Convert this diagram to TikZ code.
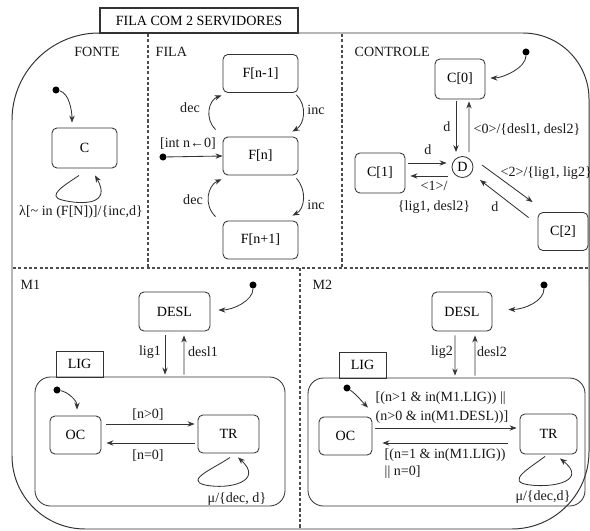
\documentclass[tikz,border=0pt]{standalone}
\usepackage{fontspec}
\setmainfont{Liberation Serif}
\usetikzlibrary{arrows.meta}
\newlength\pu
\setlength\pu{0.025cm}
\newcommand\lblfont{\fontsize{10}{12}\selectfont}
\tikzset{
  st/.style={draw=black!80,line width=0.6pt,rounded corners=3.5pt,font=\lblfont,inner sep=0pt},
  tab/.style={draw=black!80,line width=0.6pt,font=\lblfont,inner sep=0pt,minimum width=47\pu,minimum height=26\pu},
  lbl/.style={font=\lblfont,inner sep=1pt,text=black!90},
  ini/.style={circle,fill=black,inner sep=0pt,minimum size=5pt},
  tr/.style={->,black!80,line width=0.6pt},
  sep/.style={black!70,line width=0.9pt,dash pattern=on 2.2pt off 1.6pt},
  frame/.style={black!80,line width=0.7pt},
}
\begin{document}
\begin{tikzpicture}[x=0.025cm,y=-0.025cm,>={Stealth[length=5pt,width=3.8pt]}]
\useasboundingbox (0,0) rectangle (590,531);
% outer frame, one corner at a time
\draw[frame,rounded corners=62pt] (12,280) -- (12,33) -- (300,33);
\draw[frame,rounded corners=47pt] (300,33) -- (589,33) -- (589,280);
\draw[frame,rounded corners=55pt] (589,280) -- (589,529) -- (300,529);
\draw[frame,rounded corners=52pt] (300,529) -- (12,529) -- (12,280);
\node[draw=black!80,line width=0.8pt,fill=white,minimum width=198\pu,minimum height=25\pu,font=\lblfont,inner sep=0pt]
  (title) at (199,20.5) {FILA COM 2 SERVIDORES};
% region borders
\draw[sep] (148,34) -- (148,268);
\draw[sep] (342,34) -- (342,268);
\draw[sep] (13,268) -- (588,268);
\draw[sep] (300,268) -- (300,528);
\node[lbl] (fonte) at (97,52) {FONTE};
\node[lbl,anchor=west] (fila) at (154,52) {FILA};
\node[lbl,anchor=west] (controle) at (353,52) {CONTROLE};
\node[lbl,anchor=west] (m1) at (19,285) {M1};
\node[lbl,anchor=west] (m2) at (311,285) {M2};

% FONTE
\node[ini] (i0) at (56,90) {};
\node[st,minimum width=65\pu,minimum height=40\pu] (C) at (84.5,148) {C};
\draw[tr] (i0) .. controls +(13,3) and +(0,-12) .. ([shift={(-12.5,-5)}]C.north);
\draw[tr] ([shift={(-5.5,7)}]C.south) .. controls (65,185) and (46,196) .. (62,200)
  .. controls (82,205) and (112,205) .. ([shift={(10.5,7)}]C.south);
\node[lbl] (lam) at (81,212) {λ[\textasciitilde{} in (F[N])]/\{inc,d\}};

% FILA
\node[st,minimum width=75\pu,minimum height=38\pu] (Fm) at (260.5,73.5) {F[n-1]};
\node[st,minimum width=75\pu,minimum height=38\pu] (Fn) at (260.5,156) {F[n]};
\node[st,minimum width=75\pu,minimum height=38\pu] (Fp) at (260.5,240) {F[n+1]};
\node[ini] (i1) at (163,157) {};
\draw[tr] (i1) -- (Fn.west);
\node[lbl] (init) at (188,144) {[int n←0]};
\draw[tr] ([shift={(-7,-7)}]Fn.north west) .. controls (204,118) and (209,100) .. ([shift={(-1,2.5)}]Fm.south west);
\draw[tr] ([shift={(-7,-4)}]Fp.north west) .. controls (203,205) and (208,185) .. ([shift={(-1,4)}]Fn.south west);
\draw[tr] ([shift={(-2,2)}]Fm.south east) .. controls (307,105) and (305,124) .. ([shift={(-6,-5)}]Fn.north east);
\draw[tr] ([shift={(-2,3)}]Fn.south east) .. controls (307,190) and (305,209) .. ([shift={(-6,-5)}]Fp.north east);
\node[lbl] (dec1) at (190,108) {dec};
\node[lbl] (dec2) at (193,200) {dec};
\node[lbl] (inc1) at (316,110) {inc};
\node[lbl] (inc2) at (316,205) {inc};

% CONTROLE
\node[st,minimum width=50\pu,minimum height=40\pu] (C0) at (460,79) {C[0]};
\node[st,minimum width=50\pu,minimum height=40\pu] (C1) at (380,173) {C[1]};
\node[st,minimum width=50\pu,minimum height=38\pu] (C2) at (563,231.5) {C[2]};
\node[draw=black!80,line width=0.6pt,circle,minimum size=21\pu,inner sep=0pt,font=\lblfont] (D) at (462.5,167) {D};
\node[ini] (i2) at (526,52) {};
\draw[tr] (i2) .. controls +(0,16) and +(12,0) .. ([shift={(5,-1)}]C0.east);
\draw[tr] ([shift={(-4,2)}]C0.south) -- ([shift={(-6.5,-4)}]D.north);
\draw[tr] ([shift={(6.5,-4)}]D.north) -- ([shift={(9,2)}]C0.south);
\draw[tr] ([shift={(3,-10)}]C1.east) -- ([shift={(-5,-4)}]D.west);
\draw[tr] ([shift={(-4,9)}]D.west) -- ([shift={(5,3)}]C1.east);
\draw[tr] ([shift={(19.5,-2)}]D.center) -- ([shift={(-5,-10)}]C2.north west);
\draw[tr] ([shift={(-9,5.5)}]C2.north west) -- ([shift={(17.5,13)}]D.center);
\node[lbl] (d1) at (447,127) {d};
\node[lbl,anchor=west] (o0) at (472,130) {<0>/\{desl1, desl2\}};
\node[lbl] (d2) at (428,150) {d};
\node[lbl,align=center] (o1) at (434,197.5) {<1>/\\[2pt]\{lig1, desl2\}};
\node[lbl,anchor=west] (o2) at (499,173) {<2>/\{lig1, lig2\}};
\node[lbl] (d3) at (495,207) {d};

% M1
\node[st,minimum width=71\pu,minimum height=39\pu] (DA) at (174.5,311.5) {DESL};
\node[st,rounded corners=11pt,minimum width=250\pu,minimum height=129\pu] (LA) at (160,441.5) {};
\node[tab] (TA) at (79.5,364) {LIG};
\node[st,minimum width=51\pu,minimum height=38\pu] (OA) at (75.5,435) {OC};
\node[st,minimum width=61\pu,minimum height=38\pu] (RA) at (228.5,434) {TR};
\node[ini] (i3) at (253,285) {};
\node[ini] (i4) at (57,390) {};
\draw[tr] (i3) .. controls +(0,16) and +(14,0) .. ([shift={(8,-1.5)}]DA.east);
\draw[tr] ([shift={(-9.5,4)}]DA.south) -- ([shift={(5,-2)}]LA.north);
\draw[tr] ([shift={(24,-2)}]LA.north) -- ([shift={(9.5,4)}]DA.south);
\draw[tr] (i4) .. controls +(11,2) and +(0,-9) .. ([shift={(1.5,-6)}]OA.north);
\draw[tr] ([shift={(5,-11)}]OA.east) -- ([shift={(-3,-10)}]RA.west);
\draw[tr] ([shift={(-3,9)}]RA.west) -- ([shift={(5,8)}]OA.east);
\draw[tr] ([shift={(1.5,4)}]RA.south) .. controls (215,468) and (184,480) .. (205,485)
  .. controls (230,490) and (264,481) .. ([shift={(9.5,4)}]RA.south);
\node[lbl] (l1) at (150,352) {lig1};
\node[lbl] (s1) at (203,352) {desl1};
\node[lbl] (g1) at (148,415) {[n>0]};
\node[lbl] (h1) at (148,456) {[n=0]};
\node[lbl] (mu1) at (237,499) {μ/\{dec, d\}};

% M2
\node[st,minimum width=60\pu,minimum height=39\pu] (DB) at (462,311.5) {DESL};
\node[st,rounded corners=11pt,minimum width=277\pu,minimum height=128\pu] (LB) at (446.5,442) {};
\node[tab] (TB) at (362.5,365) {LIG};
\node[st,minimum width=53\pu,minimum height=38\pu] (OB) at (345.5,436) {OC};
\node[st,minimum width=57\pu,minimum height=40\pu] (RB) at (548.5,434) {TR};
\node[ini] (i5) at (544,285) {};
\node[ini] (i6) at (347,388) {};
\draw[tr] (i5) .. controls +(0,16) and +(16,0) .. ([shift={(16,-2)}]DB.east);
\draw[tr] ([shift={(-7,4)}]DB.south) -- ([shift={(8.5,-2)}]LB.north);
\draw[tr] ([shift={(28.5,-2)}]LB.north) -- ([shift={(13,4)}]DB.south);
\draw[tr] (i6) .. controls +(9,6) and +(-6,-6) .. ([shift={(22.5,-9)}]OB.north);
\draw[tr] ([shift={(3,-8)}]OB.east) -- ([shift={(-3,-6)}]RB.west);
\draw[tr] ([shift={(-12,9)}]RB.west) -- ([shift={(10,7)}]OB.east);
\draw[tr] ([shift={(-3.5,2)}]RB.south) .. controls (530,468) and (504,482) .. (530,485)
  .. controls (556,488) and (587,480) .. ([shift={(11.5,4)}]RB.south);
\node[lbl] (l2) at (442,352) {lig2};
\node[lbl] (s2) at (492,352) {desl2};
\node[lbl,align=left,anchor=west] (g2) at (374,407.5) {[(n>1 \& in(M1.LIG)) ||\\[1.5pt](n>0 \& in(M1.DESL))]};
\node[lbl,align=left,anchor=west] (h2) at (383,463.5) {[(n=1 \& in(M1.LIG))\\|| n=0]};
\node[lbl] (mu2) at (543,497) {μ/\{dec,d\}};
\end{tikzpicture}
\end{document}
